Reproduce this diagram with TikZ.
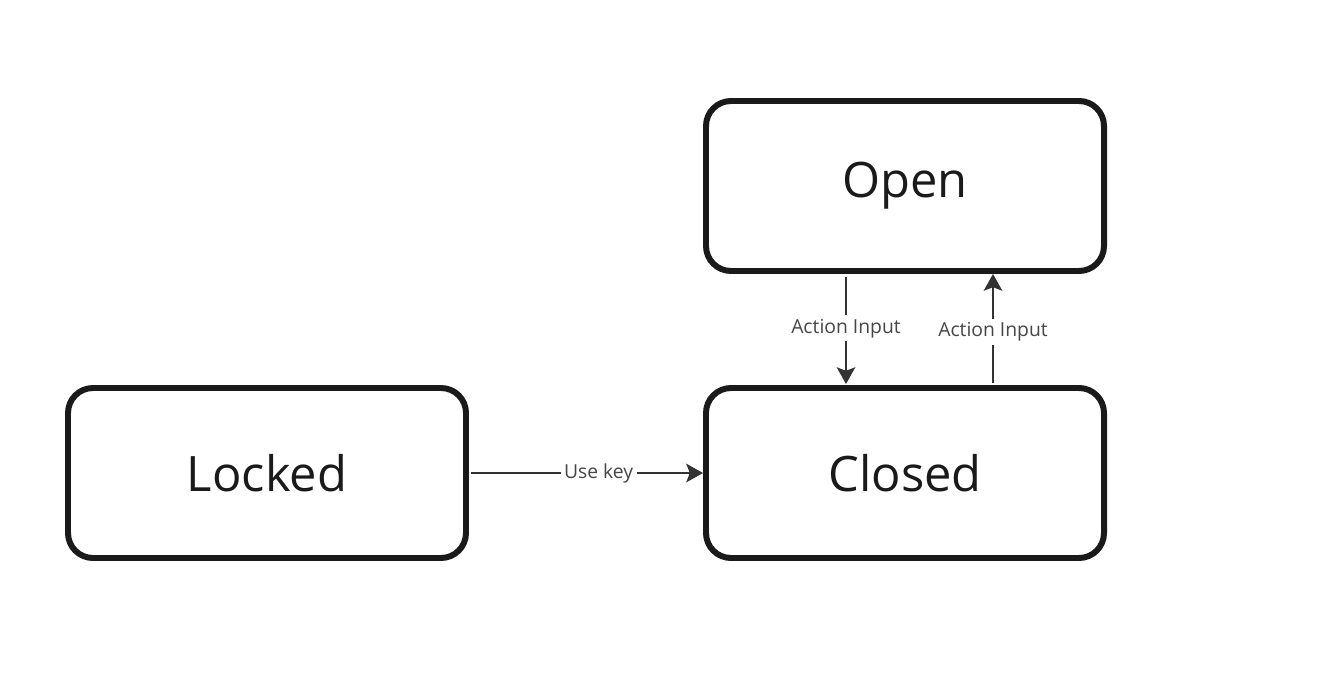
\documentclass[tikz,border=0pt]{standalone}
\usepackage{fontspec}
\setmainfont{Open Sans}
\usepackage{tikz}
\usetikzlibrary{positioning, arrows.meta}
\definecolor{stborder}{RGB}{26,26,26}
\definecolor{starrow}{RGB}{51,51,51}
\definecolor{stlabel}{RGB}{70,70,70}

\begin{document}
\begin{tikzpicture}[
  statebox/.style={draw=stborder, line width=3.4pt, rounded corners=0.5cm,
              minimum width=7.96cm, minimum height=3.4cm,
              text centered, text=stborder, font=\fontsize{27.8}{32}\selectfont},
  arr/.style={-{Stealth[length=9.5pt, width=10.5pt, inset=2pt]}, line width=1.5pt, starrow},
  lbl/.style={fill=white, inner sep=2pt, text=stlabel, font=\fontsize{11}{13}\selectfont}
]
  \useasboundingbox (0,0) rectangle (26.44,-13.6);
  %% States
  \node[statebox] (open)   at (18.1,-3.72) {Open};
  \node[statebox] (closed) at (18.1,-9.46) {Closed};
  \node[statebox] (locked) at (5.34,-9.46) {Locked};

  %% Transitions
  \draw[arr] ([xshift=-1.18cm,yshift=-0.06cm]open.south) -- node[lbl, pos=0.48]{Action Input} ([xshift=-1.18cm,yshift=0.02cm]closed.north);
  \draw[arr] ([xshift=1.76cm,yshift=0.04cm]closed.north) -- node[lbl, pos=0.47]{Action Input} ([xshift=1.76cm]open.south);
  \draw[arr] ([xshift=0.04cm]locked.east) -- node[lbl, pos=0.55]{Use key} (closed.west);
\end{tikzpicture}
\end{document}
